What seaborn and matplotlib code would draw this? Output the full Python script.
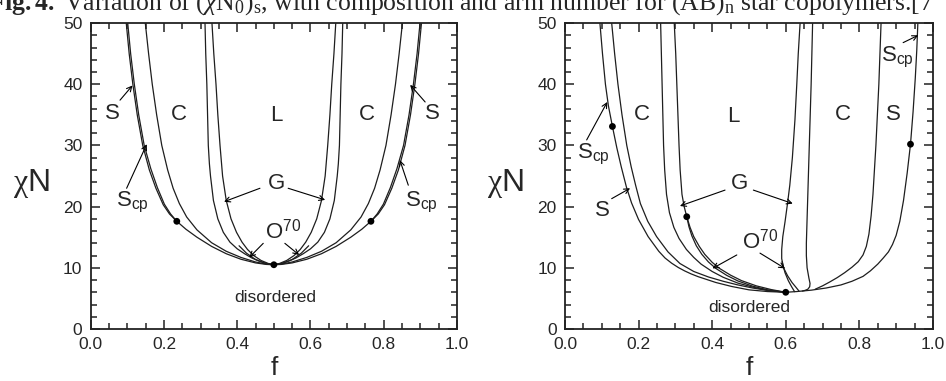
import numpy as np
import pandas as pd
import matplotlib
matplotlib.use("Agg")
import matplotlib.pyplot as plt
import seaborn as sns
from matplotlib.ticker import MultipleLocator, FormatStrFormatter

# ---- left panel (symmetric) ----
odt_l_f = [0.097, 0.105, 0.115, 0.127, 0.142, 0.160, 0.178, 0.198, 0.215, 0.235, 0.26, 0.29, 0.33, 0.37, 0.41,
           0.45, 0.48, 0.5, 0.52, 0.55, 0.59, 0.63, 0.67, 0.71, 0.74, 0.765, 0.785, 0.802, 0.822, 0.840, 0.858,
           0.873, 0.885, 0.895, 0.903]
odt_l_x = [50, 45, 40, 35, 30, 26, 23, 20.3, 18.8, 17.6, 16.3, 15.0, 13.5, 12.3, 11.4,
           10.8, 10.55, 10.5, 10.55, 10.8, 11.4, 12.3, 13.5, 15.0, 16.3, 17.6, 18.8, 20.3, 23, 26, 30,
           35, 40, 45, 50]

scp_la_f = [0.101, 0.109, 0.119, 0.131, 0.146, 0.164, 0.182, 0.201, 0.218, 0.235]
scp_la_x = [50, 45, 40, 35, 30, 26.2, 23.1, 20.4, 18.8, 17.6]
scp_lb_f = [0.765, 0.782, 0.799, 0.818, 0.836, 0.854, 0.869, 0.881, 0.891, 0.899]
scp_lb_x = [17.6, 18.8, 20.4, 23.1, 26.2, 30, 35, 40, 45, 50]

sc_l_f = [0.149, 0.158, 0.168, 0.180, 0.194, 0.210, 0.225, 0.242, 0.262, 0.29, 0.33, 0.37, 0.41, 0.45, 0.48,
          0.5, 0.52, 0.55, 0.59, 0.63, 0.67, 0.71, 0.738, 0.758, 0.775, 0.790, 0.806, 0.820, 0.832, 0.842, 0.851]
sc_l_x = [50, 45, 40, 35, 30, 26, 23, 20.5, 18.3, 16.2, 14.1, 12.7, 11.7, 10.95, 10.6,
          10.5, 10.6, 10.95, 11.7, 12.7, 14.1, 16.2, 18.3, 20.5, 23, 26, 30, 35, 40, 45, 50]

cg_l_f = [0.312, 0.314, 0.317, 0.319, 0.321, 0.324, 0.327, 0.335, 0.347, 0.362, 0.38, 0.40, 0.42, 0.44, 0.46,
          0.48, 0.5, 0.52, 0.54, 0.56, 0.58, 0.60, 0.62, 0.638, 0.653, 0.665, 0.673, 0.676, 0.679, 0.681,
          0.683, 0.686, 0.688]
cg_l_x = [50, 45, 40, 35, 30, 27, 25, 21, 18, 15.8, 14.2, 13.1, 12.3, 11.6, 11.1,
          10.7, 10.5, 10.7, 11.1, 11.6, 12.3, 13.1, 14.2, 15.8, 18, 21, 25, 27, 30, 35,
          40, 45, 50]

gl_l_f = [0.331, 0.336, 0.342, 0.347, 0.353, 0.360, 0.370, 0.383, 0.398, 0.413, 0.428, 0.445, 0.465, 0.485,
          0.5, 0.515, 0.535, 0.555, 0.572, 0.587, 0.602, 0.617, 0.630, 0.640, 0.647, 0.653, 0.658, 0.664, 0.669]
gl_l_x = [50, 45, 40, 35, 30, 25, 21, 18, 15.8, 14.2, 13, 12, 11.2, 10.7,
          10.5, 10.7, 11.2, 12, 13, 14.2, 15.8, 18, 21, 25, 30, 35, 40, 45, 50]

o70_la_f = [0.405, 0.425, 0.45, 0.475, 0.5]
o70_la_x = [13.6, 12.4, 11.35, 10.75, 10.5]
o70_lb_f = [0.5, 0.525, 0.55, 0.575, 0.595]
o70_lb_x = [10.5, 10.75, 11.35, 12.4, 13.6]

dot_l_f = [0.235, 0.5, 0.765]
dot_l_x = [17.6, 10.5, 17.6]

# ---- right panel (asymmetric) ----
odt_r_f = [0.095, 0.102, 0.110, 0.118, 0.129, 0.141, 0.153, 0.167, 0.181, 0.200, 0.226, 0.255, 0.272, 0.29,
           0.308, 0.325, 0.343, 0.362, 0.41, 0.453, 0.50, 0.55, 0.6, 0.63, 0.67, 0.71, 0.75, 0.78, 0.81, 0.83,
           0.85, 0.865, 0.879, 0.89, 0.90, 0.91, 0.92, 0.93, 0.939, 0.946, 0.952, 0.956, 0.959]
odt_r_x = [50, 45, 40, 36.5, 33.1, 29.6, 26.5, 23.2, 20.6, 17.9, 15.1, 12.7, 11.6, 10.75,
           10.05, 9.5, 9.0, 8.55, 7.6, 6.95, 6.4, 6.12, 6.0, 6.12, 6.35, 6.7, 7.2, 7.8, 8.6, 9.5,
           10.6, 11.6, 12.6, 13.8, 15.3, 17.6, 21, 25.5, 30.2, 35.5, 41, 45.5, 50]

sc_r_f = [0.127, 0.135, 0.144, 0.155, 0.168, 0.180, 0.192, 0.205, 0.225, 0.249, 0.28, 0.3125, 0.35, 0.39,
          0.43, 0.47, 0.51, 0.55, 0.6]
sc_r_x = [50, 45, 40, 35, 30, 26.5, 23.5, 20.5, 17.6, 15.1, 12.6, 10.7, 9.4, 8.5, 7.8, 7.2, 6.7, 6.3, 6.0]

cg_r_f = [0.260, 0.262, 0.264, 0.266, 0.268, 0.271, 0.276, 0.284, 0.296, 0.31, 0.33, 0.35, 0.37, 0.40,
          0.43, 0.47, 0.51, 0.55, 0.6]
cg_r_x = [50, 45, 40, 35, 30, 26, 22, 19, 16.6, 14.8, 13, 11.7, 10.6, 9.4, 8.45, 7.5, 6.85, 6.35, 6.0]

gl_r_f = [0.297, 0.301, 0.304, 0.307, 0.310, 0.313, 0.318, 0.324, 0.331, 0.340, 0.350, 0.365, 0.38, 0.40,
          0.42, 0.45, 0.48, 0.52, 0.56, 0.6]
gl_r_x = [50, 45, 40, 35, 30, 26, 22, 20, 18.35, 16.6, 15.1, 13.5, 12.2, 10.9, 9.9, 8.8, 7.9, 7.05, 6.45, 6.0]

o70_ra_f = [0.331, 0.337, 0.345, 0.357, 0.372, 0.39, 0.41, 0.44, 0.47, 0.51, 0.55, 0.6]
o70_ra_x = [18.35, 16.7, 15.2, 13.6, 12.2, 10.95, 9.9, 8.75, 7.85, 7.0, 6.4, 6.0]

lg_r_f = [0.639, 0.634, 0.630, 0.625, 0.618, 0.611, 0.605, 0.598, 0.592, 0.589, 0.589, 0.594, 0.605, 0.617,
          0.628, 0.636]
lg_r_x = [50, 45, 40, 34.2, 28, 23.5, 20.6, 17.5, 15.1, 13, 11.5, 10.0, 8.7, 7.6, 6.8, 6.2]

o70_rb_f = [0.590, 0.598, 0.607, 0.616, 0.624]
o70_rb_x = [11.0, 9.2, 7.9, 6.9, 6.1]

gc_r_f = [0.673, 0.671, 0.669, 0.666, 0.663, 0.660, 0.658, 0.656, 0.656, 0.658, 0.663, 0.666, 0.665, 0.660,
          0.652, 0.645]
gc_r_x = [50, 45, 40, 34, 28, 22, 18, 14, 12, 10, 8.3, 7.45, 6.9, 6.5, 6.3, 6.2]

cs_r_f = [0.859, 0.856, 0.853, 0.849, 0.845, 0.841, 0.837, 0.832, 0.826, 0.819, 0.81, 0.797, 0.78, 0.76,
          0.74, 0.72, 0.70, 0.68]
cs_r_x = [50, 45, 40, 35, 30, 26, 22, 18.5, 15.5, 13.5, 12.1, 11.0, 10.1, 9.2, 8.4, 7.7, 7.05, 6.5]

dot_r_f = [0.129, 0.331, 0.6, 0.939]
dot_r_x = [33.1, 18.35, 6.0, 30.2]

xticks = [0.0, 0.2, 0.4, 0.6, 0.8, 1.0]
yticks = [0, 10, 20, 30, 40, 50]

# ---- style ----
sns.set_style("ticks")
plt.rcParams["font.family"] = ["Liberation Sans", "DejaVu Sans"]
plt.rcParams["mathtext.fontset"] = "custom"
plt.rcParams["mathtext.rm"] = "Liberation Serif"
plt.rcParams["mathtext.it"] = "Liberation Serif:italic"
plt.rcParams["mathtext.bf"] = "Liberation Serif:bold"
plt.rcParams["mathtext.sf"] = "Liberation Sans"

LC = "#1e1e1e"
fig = plt.figure(figsize=(9.46, 3.81), dpi=100)
ax_l = fig.add_axes([0.0959, 0.1365, 0.3872, 0.803])
ax_r = fig.add_axes([0.5972, 0.1365, 0.389, 0.803])


def draw(ax, curves, dots_f, dots_x):
    for f, x in curves:
        sns.lineplot(x=f, y=x, ax=ax, sort=False, estimator=None, color=LC, lw=0.9)
    df = pd.DataFrame({"f": dots_f, "chiN": dots_x})
    sns.scatterplot(data=df, x="f", y="chiN", ax=ax, color="k", s=24, marker="o", edgecolor="none", zorder=5)
    ax.set_xlim(0, 1)
    ax.set_ylim(0, 50)
    ax.set_xticks(xticks)
    ax.set_yticks(yticks)
    ax.xaxis.set_major_formatter(FormatStrFormatter("%.1f"))
    ax.xaxis.set_minor_locator(MultipleLocator(0.05))
    ax.yaxis.set_minor_locator(MultipleLocator(2))
    ax.tick_params(which="both", direction="in", top=True, right=True, labelsize=12.5, pad=6, color="#222")
    ax.tick_params(which="major", length=6.5, width=1.1)
    ax.tick_params(which="minor", length=4, width=1.1)
    for s in ax.spines.values():
        s.set_linewidth(1.3)
        s.set_color("#222")
    ax.set_xlabel("f", fontsize=19, labelpad=3)
    ax.set_ylabel("")
    ax.text(-0.163, 0.476, r"$\mathrm{\chi}$N", transform=ax.transAxes, fontsize=23, ha="center", va="center")


def arrow(ax, tail, tip):
    ax.annotate("", xy=tip, xytext=tail,
                arrowprops=dict(arrowstyle="->", lw=0.8, color="k", shrinkA=0, shrinkB=0, mutation_scale=9))


draw(ax_l, [(odt_l_f, odt_l_x), (scp_la_f, scp_la_x), (scp_lb_f, scp_lb_x), (sc_l_f, sc_l_x),
            (cg_l_f, cg_l_x), (gl_l_f, gl_l_x), (o70_la_f, o70_la_x), (o70_lb_f, o70_lb_x)],
     dot_l_f, dot_l_x)
draw(ax_r, [(odt_r_f, odt_r_x), (sc_r_f, sc_r_x), (cg_r_f, cg_r_x), (gl_r_f, gl_r_x), (o70_ra_f, o70_ra_x),
            (lg_r_f, lg_r_x), (o70_rb_f, o70_rb_x), (gc_r_f, gc_r_x), (cs_r_f, cs_r_x)],
     dot_r_f, dot_r_x)

big = dict(fontsize=16, ha="center", va="center")
# left panel labels
for t, (x, y) in [("S", (0.06, 35.2)), ("C", (0.242, 35.1)), ("L", (0.506, 34.9)),
                  ("C", (0.753, 35.1)), ("S", (0.933, 35.2)), ("G", (0.506, 23.8))]:
    ax_l.text(x, y, t, **big)
ax_l.text(0.068, 20.8, r"S$_\mathsf{cp}$", fontsize=16, ha="left", va="center")
ax_l.text(0.858, 20.8, r"S$_\mathsf{cp}$", fontsize=16, ha="left", va="center")
ax_l.text(0.475, 15.9, r"O$^\mathsf{70}$", fontsize=16, ha="left", va="center")
ax_l.text(0.503, 5.2, "disordered", fontsize=12.5, ha="center", va="center")
for tail, tip in [((0.08, 37.4), (0.114, 39.8)), ((0.913, 37.1), (0.872, 39.9)),
                  ((0.098, 23.0), (0.153, 30.2)), ((0.867, 23.5), (0.844, 27.6)),
                  ((0.462, 23.0), (0.364, 20.8)), ((0.539, 23.0), (0.64, 21.1)),
                  ((0.471, 14.0), (0.433, 11.7)), ((0.53, 14.0), (0.569, 12.1))]:
    arrow(ax_l, tail, tip)

# right panel labels
for t, (x, y) in [("C", (0.208, 35.0)), ("L", (0.457, 34.7)), ("C", (0.756, 35.0)),
                  ("S", (0.892, 35.0)), ("S", (0.102, 19.4)), ("G", (0.474, 23.7))]:
    ax_r.text(x, y, t, **big)
ax_r.text(0.858, 44.5, r"S$_\mathsf{cp}$", fontsize=16, ha="left", va="center")
ax_r.text(0.033, 28.7, r"S$_\mathsf{cp}$", fontsize=16, ha="left", va="center")
ax_r.text(0.482, 14.3, r"O$^\mathsf{70}$", fontsize=16, ha="left", va="center")
ax_r.text(0.501, 3.5, "disordered", fontsize=12.5, ha="center", va="center")
for tail, tip in [((0.919, 46.8), (0.96, 48.0)), ((0.059, 30.9), (0.115, 37.1)),
                  ((0.127, 21.3), (0.177, 23.0)), ((0.435, 22.7), (0.3125, 20.1)),
                  ((0.512, 22.7), (0.619, 20.5)), ((0.467, 12.1), (0.401, 9.9)),
                  ((0.53, 12.4), (0.598, 9.9))]:
    arrow(ax_r, tail, tip)

fig.text(-0.012, 0.975,
         r"$\mathbf{Fig.4.}$ Variation of ($\chi$N$_0$)$_\mathrm{s}$, with composition and arm number "
         r"for (AB)$_\mathrm{n}$ star copolymers.[7",
         fontfamily="Liberation Serif", fontsize=18.5, va="baseline", ha="left")

fig.savefig("out.png", dpi=100)
